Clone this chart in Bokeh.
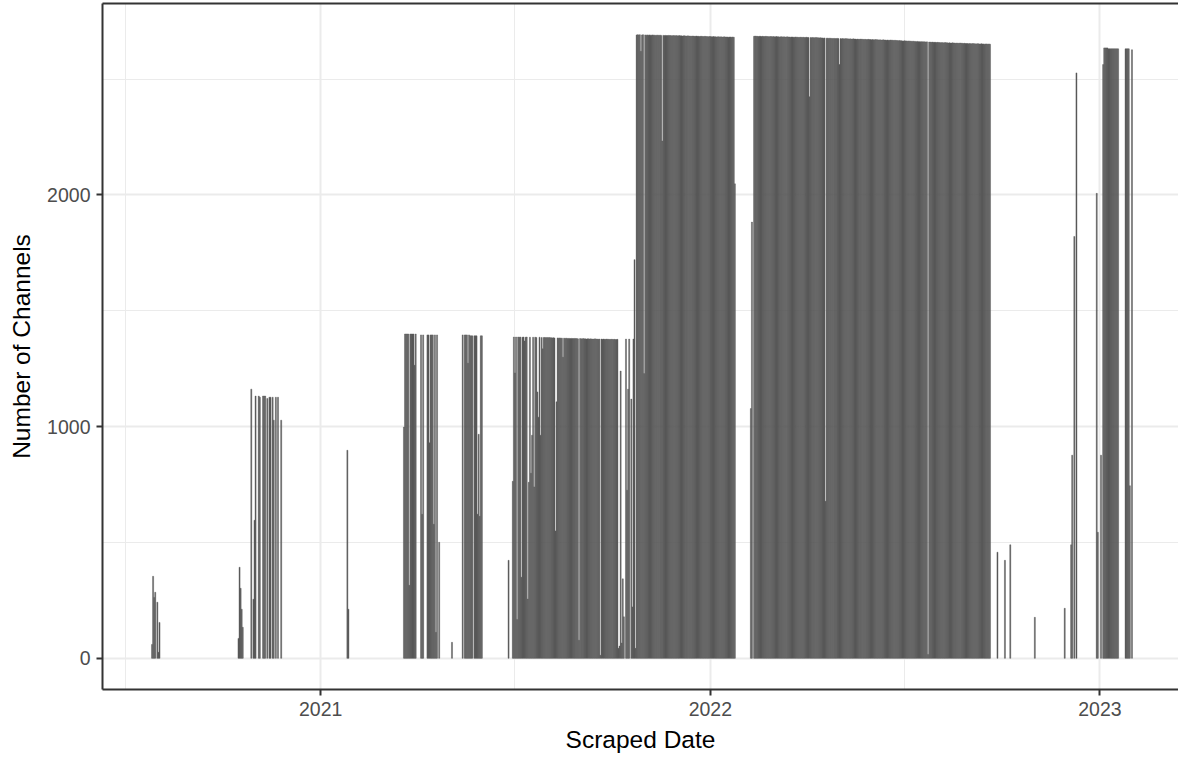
import pandas as pd
from bokeh.plotting import figure
from bokeh.models import (FixedTicker, DatetimeTickFormatter, LinearAxis, Range1d,
                          ColumnDataSource)
from bokeh.embed import file_html
from bokeh.resources import INLINE

# ---------------- data: consecutive daily counts, each list starts at the given date ----
# (0 = no scrape that day)
jul2020 = [60, 354, 263, 285, 0, 242, 26, 155]
oct2020a = [86, 393, 302, 212, 134]
oct2020b = [1162, 0, 255, 596, 1132, 0, 0, 1132, 1127, 0, 0, 1132, 1132, 1132, 0,
            1122, 0, 1127, 1127, 0, 1127, 1028, 0, 1127, 0, 1127, 0, 0, 1028]
jan2021 = [898, 212]
mar2021 = [998, 1400, 1400, 1400, 1400, 315, 1400, 1400, 1400, 1400, 1265, 1400,
           0, 0, 0, 0, 1396, 622, 1396, 0, 0, 0, 1396, 1396, 930, 1396, 1396, 1396,
           579, 1396, 112, 1396, 0, 501]
may2021a = [69]
may2021b = [1396, 0, 1396, 1396, 1396, 1274, 1396, 1392, 1392, 1392, 0, 1392, 1392,
            1392, 622, 967, 613, 1392, 1392]
jun2021 = [423, 0, 0, 0, 764, 1387, 1232, 1387, 168, 1387,
           1386, 1387, 350, 1386, 1387, 1370, 1386, 1387, 256, 760,
           1386, 799, 963, 1386, 740, 1386, 1385, 1150, 1041, 1386,
           963, 1385, 1336, 1385, 1385, 1384, 1385, 1384, 1385, 1384,
           1384, 1383, 1384, 1383, 550, 1107, 1383, 1382, 1383, 1382,
           1382, 1300, 1382, 1381, 1382, 1381, 1381, 1381, 1380, 1381,
           1380, 1380, 1381, 1380, 1380, 1379, 78, 1380, 1379, 1379,
           1380, 1379, 1379, 1378, 1379, 1379, 1378, 1379, 1378, 1378,
           1378, 1379, 1378, 1378, 1377, 1378, 13, 1378, 1377, 1378,
           1377, 1377, 1378, 1377, 1377, 1376, 1377, 1377, 1376, 1377,
           1376, 1376, 1377, 43, 53, 1240, 66, 343, 179, 0,
           1378, 726, 1162, 1378, 0, 1119, 222, 1378, 1721, 43]
oct2021 = [2691, 2692, 2691, 2692, 2620, 2691, 2692, 1229,
           2691, 2690, 2691, 2690, 2691, 2690, 2690, 2691, 2690, 2690, 2689, 2690,
           2690, 2689, 2690, 2689, 2233,
           2689, 2688, 2689, 2688, 2688, 2689, 2688, 2688, 2687, 2688,
           2688, 2687, 2688, 2687, 2687, 2688, 2687, 2687, 2686, 2687,
           2687, 2686, 2686, 2687, 2686, 2686, 2685, 2686, 2686, 2685,
           2685, 2686, 2685, 2685, 2684, 2685, 2685, 2684, 2684, 2685,
           2684, 2684, 2683, 2684, 2684, 2683, 2683, 2684, 2683, 2683,
           2682, 2683, 2683, 2682, 2683, 2682, 2682, 2683, 2682, 2682,
           2682, 2681, 2682, 2682, 2681, 2682, 2681, 2048]
feb2022 = [1078, 1883, 0,
           2685, 2686, 2685, 2685, 2684, 2685, 2685, 2684, 2685, 2684,
           2684, 2685, 2684, 2684, 2683, 2684, 2684, 2683, 2684, 2683,
           2683, 2684, 2683, 2683, 2682, 2683, 2683, 2682, 2683, 2682,
           2682, 2683, 2682, 2682, 2681, 2682, 2682, 2681, 2681, 2682,
           2681, 2681, 2680, 2681, 2681, 2680, 2681, 2680, 2680, 2681,
           2680, 2680, 2424, 2680, 2679, 2680, 2679, 2679, 2680, 2679,
           2679, 2678, 2679, 2678, 2678, 2677, 2678, 678, 2677, 2677,
           2676, 2677, 2676, 2676, 2675, 2676, 2675, 2675, 2676, 2675,
           2563, 2675, 2674, 2675, 2674, 2674, 2675, 2674, 2674, 2673,
           2674, 2673, 2673, 2674, 2673, 2673, 2672, 2673, 2672, 2672,
           2673, 2672, 2672, 2671, 2672, 2671, 2671, 2672, 2671, 2671,
           2670, 2671, 2670, 2670, 2671, 2670, 2670, 2669, 2670, 2669,
           2669, 2670, 2669, 2669, 2668, 2669, 2668, 2668, 2669, 2668,
           2668, 2667, 2668, 2667, 2667, 2666, 2667, 2666, 2666, 2665,
           2665, 2666, 2665, 2665, 2664, 2665, 2664, 2664, 2663, 2664,
           2663, 2663, 2662, 2663, 2662, 2662, 2661, 2662, 2661, 2661,
           2661, 2660, 2661, 17, 2660, 2660, 2659, 2660, 2659, 2659,
           2659, 2658, 2659, 2658, 2658, 2657, 2658, 2657, 2657, 2658,
           2657, 2657, 2656, 2657, 2656, 2656, 2657, 2656, 2656, 2655,
           2656, 2655, 2655, 2656, 2655, 2655, 2654, 2655, 2654, 2654,
           2654, 2653, 2654, 2653, 2653, 2654, 2653, 2653, 2652, 2653,
           2653, 2652, 2652, 2653, 2652, 2652, 2651, 2652, 2652, 2651,
           2652, 2651]
sep2022 = [458]
oct2022a = [423]
oct2022b = [490]
nov2022a = [177]
nov2022b = [216]
dec2022a = [490, 877, 0, 1821, 0, 2527]
dec2022b = [2007, 544, 0, 0, 877, 0, 2563, 2635, 2635, 2635, 2635,
            2631, 2631, 2631, 2631, 2631, 2631, 2631, 2631, 2631, 2631]
jan2023 = [2631, 2631, 2631, 2631, 745, 0, 2627]

segment_starts = ["2020-07-27", "2020-10-16", "2020-10-28", "2021-01-26", "2021-03-20",
                  "2021-05-04", "2021-05-14", "2021-06-26", "2021-10-24", "2022-02-08",
                  "2022-09-27", "2022-10-04", "2022-10-09", "2022-11-01", "2022-11-29",
                  "2022-12-05", "2022-12-29", "2023-01-25"]
segment_values = [jul2020, oct2020a, oct2020b, jan2021, mar2021, may2021a, may2021b,
                  jun2021, oct2021, feb2022, sep2022, oct2022a, oct2022b, nov2022a,
                  nov2022b, dec2022a, dec2022b, jan2023]

year_ticks = ["2021-01-01", "2022-01-01", "2023-01-01"]
year_minor = ["2020-07-02", "2021-07-02", "2022-07-02"]
y_ticks = [0, 1000, 2000]
y_minor = [500, 1500, 2500]

# ---------------- build table ----------------
dates, counts = [], []
for start, vals in zip(segment_starts, segment_values):
    s = pd.Timestamp(start)
    for i, v in enumerate(vals):
        if v > 0:
            dates.append(s + pd.Timedelta(days=i))
            counts.append(v)
src = ColumnDataSource(dict(date=dates, n=counts))

DAY = 86400000.0
def ms(ts):
    return pd.Timestamp(ts).value / 1e6

# ggplot-like 5% expansion; right edge cropped at the window border
lo = ms(min(dates)) - 0.45 * DAY
hi = ms(max(dates)) + 0.45 * DAY
pad = 0.05 * (hi - lo)
x0, x1_full = lo - pad, hi + pad
x1 = x0 + (x1_full - x0) * 1076.0 / 1079.0
ymax = max(counts)
ypad = 0.05 * ymax

FONT = "Liberation Sans"
GRID = "#EBEBEB"
DARK = "#333333"
BAR = "#595959"

p = figure(width=1178, height=757, x_axis_type="datetime", output_backend="svg",
           toolbar_location=None, min_border_left=102, min_border_right=0,
           min_border_top=3, min_border_bottom=68,
           x_range=Range1d(x0, x1), y_range=Range1d(-ypad, ymax + ypad))
p.outline_line_color = None
p.background_fill_color = "white"
p.border_fill_color = "white"

p.vbar(x="date", top="n", bottom=0, width=1.0 * DAY, source=src,
       fill_color=BAR, line_color=BAR, line_width=0.4)

xt = FixedTicker(ticks=[ms(t) for t in year_ticks], minor_ticks=[ms(t) for t in year_minor])
yt = FixedTicker(ticks=y_ticks, minor_ticks=y_minor)
p.xaxis.ticker = xt
p.yaxis.ticker = yt
p.xgrid.ticker = xt
p.ygrid.ticker = yt
p.xaxis.formatter = DatetimeTickFormatter(years="%Y", months="%Y", days="%Y",
                                          hours="%Y", hourmin="%Y")
for g in (p.xgrid, p.ygrid):
    g.grid_line_color = GRID
    g.grid_line_width = 2
    g.minor_grid_line_color = GRID
    g.minor_grid_line_width = 1

for ax in (p.xaxis, p.yaxis):
    ax.axis_line_color = DARK
    ax.axis_line_width = 2
    ax.major_tick_line_color = DARK
    ax.major_tick_line_width = 2
    ax.major_tick_out = 6
    ax.major_tick_in = 0
    ax.minor_tick_line_color = None
    ax.major_label_text_font = FONT
    ax.major_label_text_font_size = "19.5px"
    ax.major_label_text_color = "#4D4D4D"
    ax.axis_label_text_font = FONT
    ax.axis_label_text_font_size = "24.5px"
    ax.axis_label_text_font_style = "normal"
    ax.axis_label_text_color = "black"
    ax.major_label_standoff = 6

p.xaxis.axis_label = "Scraped Date"
p.yaxis.axis_label = "Number of Channels"
p.xaxis.axis_label_standoff = 7
p.yaxis.axis_label_standoff = 9

top = LinearAxis(major_tick_line_color=None, minor_tick_line_color=None,
                 major_label_text_font_size="0px", major_label_standoff=0,
                 major_tick_out=0, major_tick_in=0, axis_line_color=DARK,
                 axis_line_width=2, ticker=FixedTicker(ticks=[]))
p.add_layout(top, "above")

open("out.html", "w").write(file_html(p, INLINE))
